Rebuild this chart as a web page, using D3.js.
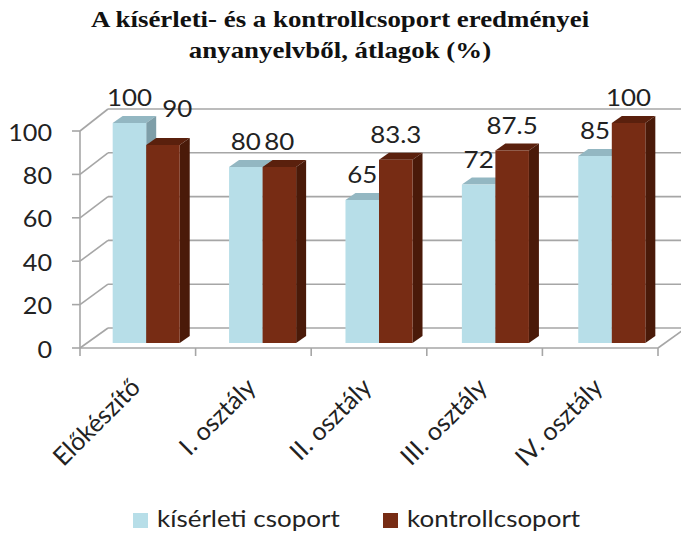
<!DOCTYPE html>
<html><head><meta charset="utf-8">
<script src="https://cdn.jsdelivr.net/npm/d3@7"></script>
<style>body{margin:0;background:#fff}svg{display:block}</style>
</head><body>
<svg id="c" width="681" height="533"></svg>
<script>
const categories = ["Előkészítő","I. osztály","II. osztály","III. osztály","IV. osztály"];
const seriesNames = ["kísérleti csoport","kontrollcsoport"];
const kiserleti = [100,80,65,72,85];
const kontroll = [90,80,83.3,87.5,100];
const yTicks = [0,20,40,60,80,100];
const titleLines = ["A kísérleti- és a kontrollcsoport eredményei","anyanyelvből, átlagok (%)"];

const colors = [
  {front:"#b7dee8", top:"#93b7c2", side:"#7e9ea8"},
  {front:"#772c14", top:"#5a200d", side:"#4a1a09"}
];
const series = [kiserleti, kontroll];

const svg = d3.select("#c");
const FONT = "Lato, 'Open Sans', sans-serif";
const TXT = "#222";

// scales
const frontX = d3.scaleBand().domain(categories).range([80,658]);
const barX = d3.scaleBand().domain(categories).range([88,670]);
const y = d3.scaleLinear().domain([0,100]).range([348,131]);
const yBack = d3.scaleLinear().domain([0,100]).range([328,109]);
const barY = d3.scaleLinear().domain([0,100]).range([343,123]);
const DX = 28;            // wall depth offset x
const SX = 10, SY = -7;   // bar depth offset
const grid = "#a6a6a6";

// title
svg.append("g").selectAll("text").data(titleLines).join("text")
  .attr("transform",(d,i)=>`translate(340,${27+i*31}) scale(1.12,1)`)
  .attr("text-anchor","middle")
  .attr("font-family","'Liberation Serif','Times New Roman',serif")
  .attr("font-weight","bold").attr("font-size",24).attr("fill","#111")
  .text(d=>d);

// back wall gridlines
const gg = svg.append("g").attr("stroke",grid).attr("stroke-width",1.6).attr("fill","none");
gg.selectAll("line.back").data(yTicks).join("line").attr("class","back")
  .attr("x1",80+DX).attr("x2",690)
  .attr("y1",d=>yBack(d)).attr("y2",d=>yBack(d));
// left wall diagonals
gg.selectAll("line.side").data(yTicks).join("line").attr("class","side")
  .attr("x1",80).attr("x2",80+DX)
  .attr("y1",d=>y(d)).attr("y2",d=>yBack(d));
// right floor diagonal
gg.append("line").attr("x1",658).attr("y1",y(0)).attr("x2",658+DX).attr("y2",yBack(0));

// bars
const bw = barX.bandwidth()*0.288;
const bars = [];
categories.forEach((c,i)=>{
  series.forEach((s,k)=>{
    const x0 = barX(c) + (barX.bandwidth()-2*bw)/2 + k*bw;
    bars.push({c, i, k, v:s[i], x0});
  });
});
const bg = svg.append("g");
bars.forEach(b=>{
  const top = barY(b.v), bot = barY(0), col = colors[b.k];
  const g = bg.append("g");
  g.append("polygon").attr("fill",col.top)
    .attr("points",[[b.x0,top],[b.x0+bw,top],[b.x0+bw+SX,top+SY],[b.x0+SX,top+SY]].join(" "));
  g.append("polygon").attr("fill",col.side)
    .attr("points",[[b.x0+bw,top],[b.x0+bw+SX,top+SY],[b.x0+bw+SX,bot+SY],[b.x0+bw,bot]].join(" "));
  g.append("rect").attr("fill",col.front)
    .attr("x",b.x0).attr("y",top).attr("width",bw).attr("height",bot-top);
});

// front axis (y)
const ag = svg.append("g").attr("stroke",grid).attr("stroke-width",1.6);
ag.append("line").attr("x1",80).attr("x2",80).attr("y1",y(100)).attr("y2",y(0));
ag.selectAll("line.tk").data(yTicks).join("line").attr("class","tk")
  .attr("x1",72).attr("x2",80).attr("y1",d=>y(d)).attr("y2",d=>y(d));
// front floor edge + category ticks
ag.append("line").attr("x1",80).attr("x2",658).attr("y1",y(0)).attr("y2",y(0));
const catEdges = categories.map(c=>frontX(c)).concat([frontX.range()[1]]);
ag.selectAll("line.ct").data(catEdges).join("line").attr("class","ct")
  .attr("x1",d=>d).attr("x2",d=>d).attr("y1",y(0)).attr("y2",y(0)+8);

// y tick labels
svg.append("g").selectAll("text").data(yTicks).join("text")
  .attr("transform",d=>`translate(52,${y(d)+1}) scale(1.05,1)`).attr("dy","0.36em")
  .attr("text-anchor","end").attr("font-family",FONT).attr("font-size",24).attr("fill",TXT)
  .text(d=>d);

// category labels
svg.append("g").selectAll("text").data(categories).join("text")
  .attr("transform",d=>`translate(${frontX(d)+frontX.bandwidth()/2+4},389) rotate(-45)`)
  .attr("text-anchor","end").attr("font-family",FONT).attr("font-size",25).attr("fill",TXT)
  .text(d=>d);

// data labels (with simple collision nudge against the neighbouring bar's top)
const labelPos = bars.map(b=>{
  let x = b.x0+bw/2, yy = barY(b.v)+SY-10, anchor="middle";
  if (b.k===1) {
    const prev = bars.find(p=>p.i===b.i && p.k===0);
    if (barY(prev.v)+SY < yy) { // neighbour is taller: move right beside it
      x = prev.x0+bw+SX+6; yy = barY(prev.v)+SY+1; anchor="start";
    }
  }
  return {b, x, y:yy, anchor};
});
svg.append("g").selectAll("text").data(labelPos).join("text")
  .attr("transform",d=>`translate(${d.x},${d.y}) scale(1.08,1)`)
  .attr("text-anchor",d=>d.anchor).attr("font-family",FONT).attr("font-size",24).attr("fill",TXT)
  .text(d=>String(d.b.v));

// legend
const lg = svg.append("g");
const legX = [133,383];
seriesNames.forEach((n,k)=>{
  lg.append("rect").attr("x",legX[k]).attr("y",513).attr("width",15).attr("height",15).attr("fill",colors[k].front);
  lg.append("text").attr("transform",`translate(${legX[k]+24},527) scale(1.13,1)`)
    .attr("font-family",FONT).attr("font-size",23).attr("fill",TXT).text(n);
});
</script>
</body></html>
